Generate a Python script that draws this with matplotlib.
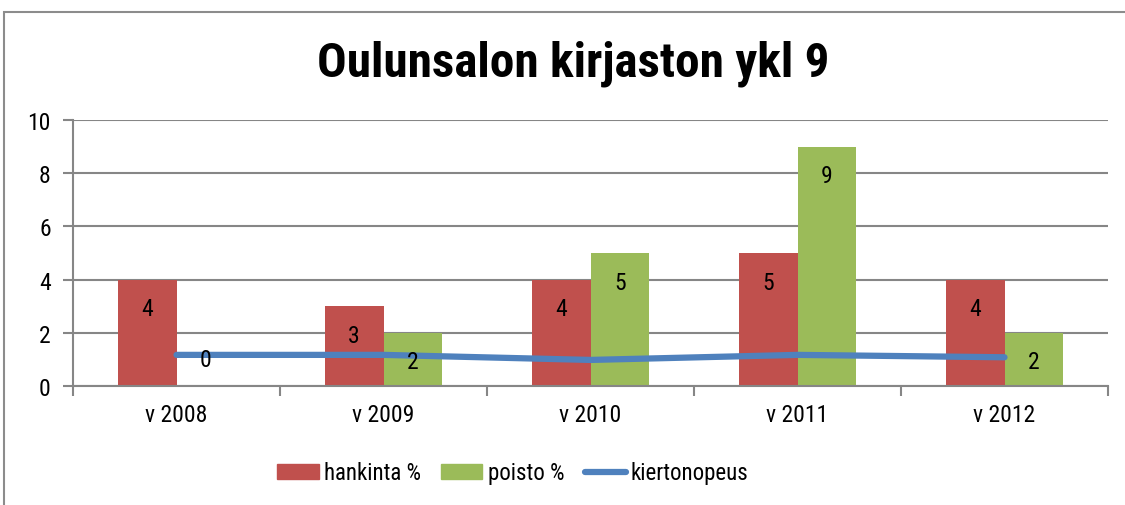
import matplotlib
matplotlib.use("Agg")
import matplotlib.pyplot as plt
import numpy as np
from matplotlib.patches import Rectangle
from matplotlib.lines import Line2D
from matplotlib.patches import Patch

categories = ["v 2008", "v 2009", "v 2010", "v 2011", "v 2012"]
hankinta = [4, 3, 4, 5, 4]
poisto = [0, 2, 5, 9, 2]
kiertonopeus = [1.17, 1.17, 0.98, 1.17, 1.08]
series_names = ["hankinta %", "poisto %", "kiertonopeus"]
yticks = [0, 2, 4, 6, 8, 10]
title = "Oulunsalon kirjaston ykl 9"

RED = "#C0504D"
GREEN = "#9BBB59"
BLUE = "#4F81BD"
GRID = "#868686"

plt.rcParams['font.family'] = ['Roboto Condensed', 'Liberation Sans', 'DejaVu Sans']
FS = 17

fig = plt.figure(figsize=(11.25, 5.06), dpi=100)
fig.patches.append(Rectangle((4 / 1125, -0.1), 1.2, 1 - 13 / 506 + 0.1, transform=fig.transFigure,
                             fill=False, edgecolor="#8C8C8C", linewidth=1.5, zorder=0))

ax = fig.add_axes([73 / 1125, 1 - 387 / 506, (1108 - 73) / 1125, (387 - 121) / 506])
x = np.arange(len(categories))
w = 0.285
ax.bar(x - w / 2, hankinta, w, color=RED, zorder=2, label=series_names[0])
ax.bar(x + w / 2, poisto, w, color=GREEN, zorder=2, label=series_names[1])
ax.plot(x, kiertonopeus, color=BLUE, linewidth=4.5, solid_capstyle="round", zorder=3)

for xs, vals in ((x - w / 2, hankinta), (x + w / 2, poisto)):
    for xi, v in zip(xs, vals):
        off = -21 if v > 0 else 19
        ax.annotate(str(v), (xi, v), xytext=(0, off), textcoords="offset points",
                    ha="center", va="center", fontsize=FS, zorder=4)

ax.set_xlim(-0.5, len(categories) - 0.5)
ax.set_ylim(0, 10)
ax.set_yticks(yticks)
ax.set_yticklabels([str(t) for t in yticks], fontsize=FS)
ax.yaxis.grid(True, color=GRID, linewidth=1.5, zorder=1)
ax.set_axisbelow(True)
ax.set_xticks(np.arange(len(categories) + 1) - 0.5)
ax.set_xticklabels([])
ax.set_xticks(x, minor=True)
ax.set_xticklabels(categories, minor=True, fontsize=FS)
ax.tick_params(axis="x", which="major", length=7, width=1.5, color=GRID, direction="out")
ax.tick_params(axis="x", which="minor", length=0, pad=12)
ax.tick_params(axis="y", length=7, width=1.5, color=GRID, direction="out", pad=9)
for s in ("top", "right"):
    ax.spines[s].set_visible(False)
for s in ("left", "bottom"):
    ax.spines[s].set_color(GRID)
    ax.spines[s].set_linewidth(1.5)

fig.text(573 / 1125, 1 - 64 / 506, title, ha="center", va="center", fontsize=35.5, fontweight="bold")

handles = [Patch(color=RED), Patch(color=GREEN), Line2D([], [], color=BLUE, linewidth=4.5, solid_capstyle="round")]
fig.legend(handles, series_names, loc="center", bbox_to_anchor=(513 / 1125, 1 - 474 / 506), ncol=3,
           frameon=False, fontsize=16.5, handlelength=1.8, handleheight=0.6, handletextpad=0.22,
           columnspacing=0.9)

fig.savefig("out.png", dpi=100)
